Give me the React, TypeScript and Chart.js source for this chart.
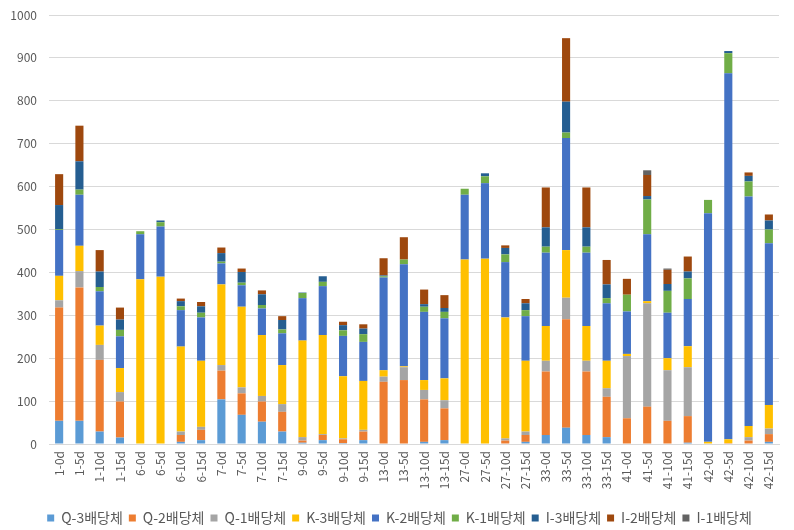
import React, { useEffect, useRef } from "react";
import { Chart, registerables } from "chart.js";

Chart.register(...registerables);

const categories = [
  "1-0d", "1-5d", "1-10d", "1-15d", "6-0d", "6-5d", "6-10d", "6-15d",
  "7-0d", "7-5d", "7-10d", "7-15d", "9-0d", "9-5d", "9-10d", "9-15d",
  "13-0d", "13-5d", "13-10d", "13-15d", "27-0d", "27-5d", "27-10d", "27-15d",
  "33-0d", "33-5d", "33-10d", "33-15d", "41-0d", "41-5d", "41-10d", "41-15d",
  "42-0d", "42-5d", "42-10d", "42-15d",
];

const seriesNames = [
  "Q-3배당체", "Q-2배당체", "Q-1배당체", "K-3배당체", "K-2배당체",
  "K-1배당체", "I-3배당체", "I-2배당체", "I-1배당체",
];

const seriesColors = [
  "#5B9BD5", "#ED7D31", "#A5A5A5", "#FFC000", "#4472C4",
  "#70AD47", "#255E91", "#9E480E", "#636363",
];

const q3 = [54, 54, 29, 15, 0, 0, 5, 9, 104, 68, 52, 29, 3, 9, 2, 9, 0, 0, 5, 9, 0, 0, 0, 5, 21, 38, 21, 16, 0, 0, 0, 3, 0, 0, 0, 5];
const q2 = [264, 311, 167, 84, 0, 0, 16, 24, 67, 50, 47, 46, 5, 12, 9, 20, 145, 149, 99, 74, 0, 0, 8, 16, 148, 253, 148, 94, 60, 87, 54, 62, 0, 2, 8, 18];
const q1 = [17, 38, 35, 22, 0, 0, 8, 7, 13, 14, 13, 18, 8, 2, 2, 4, 12, 30, 22, 19, 0, 0, 5, 8, 25, 50, 25, 20, 145, 241, 118, 114, 0, 0, 8, 13];
const k3 = [57, 59, 45, 56, 384, 390, 198, 154, 188, 188, 142, 91, 225, 231, 145, 114, 15, 2, 23, 51, 430, 432, 282, 165, 81, 111, 81, 64, 5, 5, 28, 49, 5, 9, 26, 55];
const k2 = [107, 119, 80, 74, 105, 117, 85, 101, 49, 50, 62, 74, 99, 114, 94, 91, 216, 238, 159, 140, 151, 176, 129, 104, 171, 261, 171, 134, 99, 156, 106, 110, 533, 853, 535, 377];
const k1 = [2, 12, 10, 15, 7, 10, 9, 11, 4, 6, 8, 9, 12, 10, 13, 18, 3, 11, 12, 15, 14, 16, 18, 14, 14, 13, 14, 12, 39, 81, 51, 48, 31, 47, 35, 32];
const i3 = [56, 66, 36, 24, 0, 4, 12, 15, 20, 25, 25, 22, 1, 13, 12, 13, 2, 0, 6, 9, 0, 7, 15, 16, 45, 72, 45, 32, 0, 8, 16, 16, 0, 5, 13, 21];
const i2 = [72, 83, 50, 28, 0, 0, 6, 10, 13, 8, 9, 9, 0, 0, 8, 10, 40, 52, 34, 30, 0, 0, 6, 10, 93, 148, 93, 57, 37, 49, 33, 35, 0, 0, 8, 14];
const i1 = [0, 0, 0, 0, 0, 0, 0, 0, 0, 0, 0, 0, 0, 0, 0, 0, 0, 0, 0, 0, 0, 0, 0, 0, 0, 0, 0, 0, 0, 11, 3, 0, 0, 0, 0, 0];

const seriesValues = [q3, q2, q1, k3, k2, k1, i3, i2, i1];

const yMin = 0;
const yMax = 1000;
const yStep = 100;

const FONT = "'Noto Sans CJK KR', 'Noto Sans', sans-serif";

const legendShift = {
  id: "legendShift",
  afterLayout(chart: any) {
    const l = chart.legend;
    if (l) {
      l.left += 10;
      l.right += 10;
    }
  },
};

export default function App() {
  const canvasRef = useRef<HTMLCanvasElement | null>(null);

  useEffect(() => {
    document.body.style.margin = "0";
    const canvas = canvasRef.current;
    if (!canvas) return;
    const chart = new Chart(canvas, {
      type: "bar",
      data: {
        labels: categories,
        datasets: seriesNames.map((name, i) => ({
          label: name,
          data: seriesValues[i],
          backgroundColor: seriesColors[i],
          borderWidth: 0,
          barPercentage: 0.4,
          categoryPercentage: 1,
        })),
      },
      options: {
        animation: false,
        responsive: false,
        maintainAspectRatio: false,
        layout: { padding: { top: 15, right: 15, bottom: -5, left: 0 } },
        plugins: {
          legend: {
            position: "bottom",
            labels: {
              boxWidth: 7,
              boxHeight: 7,
              padding: 6,
              color: "#595959",
              font: { family: FONT, size: 14 },
            },
          },
          tooltip: { enabled: false },
        },
        scales: {
          x: {
            stacked: true,
            grid: { display: false, drawTicks: false },
            border: { display: true, color: "#d9d9d9" },
            ticks: {
              color: "#595959",
              font: { family: FONT, size: 12 },
              minRotation: 90,
              maxRotation: 90,
              autoSkip: false,
              padding: 7,
            },
            afterFit: (s: any) => {
              s.height = 61;
              s.paddingLeft = 0;
              s.paddingRight = 0;
            },
          },
          y: {
            stacked: true,
            min: yMin,
            max: yMax,
            grid: { color: "#d9d9d9", drawTicks: false },
            border: { display: false },
            ticks: {
              stepSize: yStep,
              color: "#595959",
              font: { family: FONT, size: 12 },
              padding: 12,
              callback: (v: any) => String(v),
            },
            afterFit: (s: any) => {
              s.width = 49;
              s.paddingTop = 0;
              s.paddingBottom = 0;
            },
          },
        },
      },
      plugins: [legendShift],
    });
    return () => chart.destroy();
  }, []);

  return (
    <div style={{ width: 794, height: 530, position: "relative" }}>
      <canvas ref={canvasRef} width={794} height={530} style={{ width: 794, height: 530, display: "block" }} />
    </div>
  );
}
